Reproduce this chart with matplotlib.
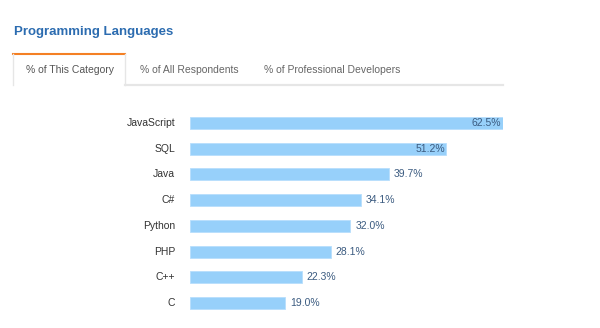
import matplotlib.pyplot as plt
from matplotlib.lines import Line2D

plt.rcParams['font.family'] = ['Liberation Sans', 'DejaVu Sans']

languages = ['JavaScript', 'SQL', 'Java', 'C#', 'Python', 'PHP', 'C++', 'C']
percents = [62.5, 51.2, 39.7, 34.1, 32.0, 28.1, 22.3, 19.0]
tabs = ['% of This Category', '% of All Respondents', '% of Professional Developers']

W, H = 600, 328
fig = plt.figure(figsize=(W / 100, H / 100), dpi=100)


def fx(px):
    return px / W


def fy(py):
    return 1 - py / H


# title
fig.text(fx(14), fy(32), 'Programming Languages', fontsize=9.5, fontweight='bold',
         color='#2c6cb0', ha='left', va='center')

# tabs
grey = '#e6e6e6'
fig.add_artist(Line2D([fx(13), fx(125)], [fy(54), fy(54)], color='#f48024', lw=1.5))
fig.add_artist(Line2D([fx(13), fx(13)], [fy(54), fy(85)], color=grey, lw=1))
fig.add_artist(Line2D([fx(125), fx(125)], [fy(54), fy(85)], color=grey, lw=1))
fig.add_artist(Line2D([fx(125), fx(503)], [fy(85), fy(85)], color=grey, lw=1.6))
tab_x = [70, 189, 332]
for lbl, x in zip(tabs, tab_x):
    fig.text(fx(x), fy(70), lbl, fontsize=7.5, color='#555555' if x == 70 else '#666666',
             ha='center', va='center')

# bars
ax = fig.add_axes([fx(190), fy(315.9), fx(313), (315.9 - 110.1) / H])
ypos = list(range(len(languages)))
ax.barh(ypos, percents, height=0.47, color='#97d0fa', edgecolor='#b7defc', linewidth=0.6)
ax.set_xlim(0, 62.5)
ax.set_ylim(len(languages) - 0.5, -0.5)
ax.axis('off')

for y, lang, v in zip(ypos, languages, percents):
    ax.text(-15 / 5.008, y, lang, fontsize=7.5, color='#333333', ha='right', va='center')
    if v > 45:
        ax.text(v - 0.3, y, f'{v:.1f}%', fontsize=7.5, color='#3b5b80', ha='right', va='center')
    else:
        ax.text(v + 1.0, y, f'{v:.1f}%', fontsize=7.5, color='#3b5b80', ha='left', va='center')

fig.savefig('out.png', dpi=100)
